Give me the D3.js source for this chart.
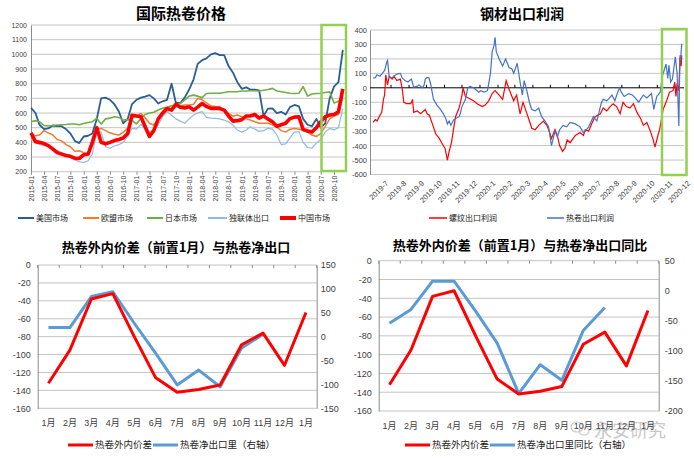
<!doctype html>
<html>
<head>
<meta charset="utf-8">
<title>热卷价格与出口</title>
<script src="https://cdn.jsdelivr.net/npm/d3@7"></script>
<style>
  body { margin: 0; background: #fff; }
  svg text { font-family: "Liberation Sans", "Noto Sans CJK SC", sans-serif; fill: #404040; }
  svg .title { font-family: "Noto Sans CJK SC", sans-serif; font-weight: bold; fill: #000; }
  svg .legend text { fill: #222; font-family: "Noto Sans CJK SC", sans-serif; }
</style>
</head>
<body>
<svg id="chart" width="694" height="462"></svg>
<script>
// ---------- data ----------
// 国际热卷价格, monthly, 2015-01 .. 2020-12
const usPrice    = [635,600,520,490,495,515,510,510,490,460,410,395, 440,445,460,560,700,705,690,660,610,530,560,660,
                    690,705,712,722,700,665,680,690,800,670,668,705, 760,830,935,960,972,1000,1008,995,995,920,875,810,
                    765,775,760,760,755,580,630,632,600,608,590,640, 655,645,560,520,510,560,500,530,700,780,810,1030];
const euPrice    = [455,445,450,480,465,450,420,410,385,370,340,343, 330,315,380,490,495,480,465,455,450,470,495,570,
                    580,598,570,530,518,552,590,610,632,640,650,654, 655,660,700,690,670,648,645,643,620,598,578,586,
                    575,560,552,540,530,530,530,520,505,480,470,490, 495,490,484,470,450,440,460,507,560,580,590,720];
const jpPrice    = [540,548,540,515,512,515,518,520,522,525,525,520, 528,535,540,565,525,560,565,575,570,552,555,550,
                    525,565,590,600,605,620,632,640,650,655,665,688, 715,722,715,705,733,735,735,735,740,745,745,745,
                    750,750,752,752,750,755,760,768,750,745,740,735, 733,735,780,715,730,733,735,740,745,668,680,688];
const cisPrice   = [420,400,385,380,370,355,345,330,315,295,280,268, 264,275,320,470,470,370,360,375,385,400,440,495,
                    490,525,490,473,484,520,575,609,585,560,545,530, 560,586,600,609,570,565,564,560,552,540,518,484,
                    470,484,507,490,475,480,496,490,450,385,390,430, 470,473,400,365,360,395,420,470,495,485,500,632];
const cnPrice    = [465,405,400,392,378,355,330,320,310,305,292,290, 315,320,400,500,400,390,400,412,420,430,460,585,
                    580,575,510,440,480,560,600,632,620,660,640,635, 643,620,640,665,645,632,632,630,620,580,545,548,
                    555,580,580,590,565,580,560,540,510,520,530,562, 572,575,488,478,470,500,540,575,586,590,609,765];
const priceSeries = ["美国市场", "欧盟市场", "日本市场", "独联体出口", "中国市场"];

// 钢材出口利润
const rebarProfit = [
  ["2019-07-01",-240],["2019-07-05",-220],["2019-07-08",-230],["2019-07-13",-190],["2019-07-16",-170],["2019-07-19",-80],["2019-07-21",-50],["2019-07-23",90],["2019-07-26",20],["2019-07-29",80],
  ["2019-08-03",60],["2019-08-06",80],["2019-08-11",50],["2019-08-17",60],["2019-08-20",0],["2019-08-23",-100],["2019-08-28",-110],
  ["2019-09-04",-110],["2019-09-07",-80],["2019-09-09",-170],["2019-09-15",-160],["2019-09-21",-180],["2019-09-29",-150],
  ["2019-10-02",-180],["2019-10-06",-190],["2019-10-12",-260],["2019-10-17",-320],["2019-10-23",-350],["2019-10-27",-380],
  ["2019-11-02",-420],["2019-11-06",-500],["2019-11-09",-440],["2019-11-13",-380],["2019-11-16",-300],["2019-11-20",-200],["2019-11-26",-140],["2019-11-28",-110],
  ["2019-12-01",-50],["2019-12-03",0],["2019-12-07",-60],["2019-12-12",-70],["2019-12-21",-90],["2019-12-27",-110],
  ["2020-01-05",-130],["2020-01-10",-120],["2020-01-16",-90],["2020-01-22",-40],["2020-01-27",-20],
  ["2020-02-03",-50],["2020-02-09",-80],["2020-02-15",50],["2020-02-20",-10],["2020-02-25",-60],["2020-02-28",-90],
  ["2020-03-04",-50],["2020-03-10",-180],["2020-03-15",-100],["2020-03-21",-170],["2020-03-26",-230],["2020-03-30",-280],
  ["2020-04-05",-290],["2020-04-11",-260],["2020-04-19",-230],["2020-04-25",-260],["2020-04-29",-300],
  ["2020-05-03",-350],["2020-05-09",-290],["2020-05-13",-330],["2020-05-17",-400],["2020-05-22",-440],["2020-05-26",-420],["2020-05-30",-360],
  ["2020-06-04",-380],["2020-06-13",-330],["2020-06-21",-310],["2020-06-27",-330],["2020-06-30",-290],
  ["2020-07-06",-300],["2020-07-11",-250],["2020-07-17",-200],["2020-07-26",-180],["2020-07-31",-140],
  ["2020-08-06",-160],["2020-08-12",-130],["2020-08-17",-110],["2020-08-23",-130],["2020-08-29",-180],
  ["2020-09-03",-100],["2020-09-09",-130],["2020-09-15",-140],["2020-09-21",-110],["2020-09-27",-170],
  ["2020-10-03",-210],["2020-10-08",-260],["2020-10-14",-240],["2020-10-20",-300],["2020-10-25",-360],["2020-10-28",-410],
  ["2020-11-02",-330],["2020-11-05",-290],["2020-11-11",-150],["2020-11-17",-90],["2020-11-22",-30],["2020-11-28",-20],
  ["2020-12-01",40],["2020-12-03",-60],["2020-12-05",30],["2020-12-08",-20],["2020-12-10",210],["2020-12-12",150],["2020-12-13",225]
];
const hrcProfit = [
  ["2019-07-01",68],["2019-07-05",70],["2019-07-08",90],["2019-07-13",80],["2019-07-16",95],["2019-07-19",110],["2019-07-21",120],["2019-07-25",183],["2019-07-26",190],["2019-07-29",70],
  ["2019-08-03",70],["2019-08-11",95],["2019-08-17",100],["2019-08-20",70],["2019-08-25",50],["2019-08-30",40],
  ["2019-09-05",60],["2019-09-09",5],["2019-09-15",10],["2019-09-18",20],["2019-09-24",0],["2019-09-27",20],["2019-09-29",60],
  ["2019-10-01",70],["2019-10-05",70],["2019-10-08",30],["2019-10-13",-80],["2019-10-19",-120],["2019-10-25",-150],["2019-10-30",-180],
  ["2019-11-03",-210],["2019-11-06",-250],["2019-11-09",-230],["2019-11-12",-260],["2019-11-17",-220],["2019-11-26",-200],["2019-11-28",-180],
  ["2019-12-01",-130],["2019-12-07",-80],["2019-12-11",0],["2019-12-15",10],["2019-12-21",0],["2019-12-27",-20],["2019-12-30",-30],
  ["2020-01-02",-20],["2020-01-08",-30],["2020-01-14",-20],["2020-01-19",100],["2020-01-22",250],["2020-01-25",290],["2020-01-27",350],["2020-01-29",250],
  ["2020-02-03",200],["2020-02-09",150],["2020-02-14",200],["2020-02-20",140],["2020-02-25",130],["2020-02-28",100],
  ["2020-03-05",170],["2020-03-10",40],["2020-03-14",-50],["2020-03-17",50],["2020-03-21",-10],["2020-03-26",-100],["2020-03-30",-150],
  ["2020-04-05",-160],["2020-04-11",-140],["2020-04-16",-200],["2020-04-22",-230],["2020-04-28",-270],
  ["2020-05-03",-400],["2020-05-09",-300],["2020-05-13",-340],["2020-05-17",-290],["2020-05-23",-260],["2020-05-29",-270],
  ["2020-06-04",-240],["2020-06-13",-250],["2020-06-21",-270],["2020-06-27",-310],["2020-06-30",-300],
  ["2020-07-06",-270],["2020-07-14",-200],["2020-07-20",-230],["2020-07-28",-100],["2020-07-31",-80],
  ["2020-08-06",-90],["2020-08-15",-50],["2020-08-20",-90],["2020-08-24",-40],["2020-08-28",0],["2020-08-31",-30],
  ["2020-09-05",-60],["2020-09-13",-40],["2020-09-19",-50],["2020-09-24",-70],["2020-09-30",-100],
  ["2020-10-03",-80],["2020-10-08",-50],["2020-10-14",-70],["2020-10-22",-40],["2020-10-26",-150],["2020-10-31",-60],
  ["2020-11-02",-50],["2020-11-06",-30],["2020-11-10",85],["2020-11-16",165],["2020-11-19",65],["2020-11-21",155],["2020-11-24",40],["2020-11-27",60],
  ["2020-12-02",215],["2020-12-05",100],["2020-12-08",-265],["2020-12-10",225],["2020-12-11",190],["2020-12-13",305]
];

// 外内价差 vs 净出口
const monthLabels  = ["1月","2月","3月","4月","5月","6月","7月","8月","9月","10月","11月","12月","1月"];
const priceGap     = [-132,-95,-38,-32,-80,-126,-142,-139,-134,-89,-76,-112,-53];
const netExport    = [19,19,84,94,28,-35,-101,-70,-105,-24,5];
const netExportYoy = [-54,-31,16,16,-34,-87,-171,-123,-149,-66,-28];

// ---------- drawing ----------
const svg = d3.select("#chart");
const green = "#92D050", grid = "#c4c4c4", axisCol = "#8c8c8c";
const parse = d3.timeParse("%Y-%m-%d");
const plain = d => String(d);   // keep hyphen minus, no thousands comma

function title(txt, x, y, size) {
  svg.append("text").attr("class", "title").attr("x", x).attr("y", y)
    .attr("text-anchor", "middle").style("font-size", size + "px").text(txt);
}

function legendItem(g, x, y, len, color, w, label, size) {
  g.append("line").attr("x1", x).attr("x2", x + len).attr("y1", y).attr("y2", y)
    .attr("stroke", color).attr("stroke-width", w);
  g.append("text").attr("x", x + len + 2).attr("y", y).attr("dy", "0.35em")
    .style("font-size", size + "px").text(label);
}

// ===== 国际热卷价格 =====
{
  const L = 31, R = 345;
  const months = d3.timeMonth.range(new Date(2015, 0, 1), new Date(2020, 11, 2));
  const x = d3.scaleTime().domain([new Date(2015, 0, 1), new Date(2020, 9, 1)]).range([31, 334]);
  const y = d3.scaleLinear().domain([200, 1200]).range([171.7, 25]);
  const g = svg.append("g");

  g.selectAll(".grid").data(d3.range(200, 1201, 100)).join("line")
    .attr("x1", L).attr("x2", R).attr("y1", d => y(d)).attr("y2", d => y(d))
    .attr("stroke", grid).attr("stroke-width", 1);

  const ya = g.append("g").attr("transform", `translate(${L},0)`)
    .call(d3.axisLeft(y).tickValues(d3.range(200, 1201, 100)).tickFormat(plain).tickSize(0).tickPadding(4));
  ya.select(".domain").attr("stroke", axisCol);
  ya.selectAll("text").style("font-size", "7px");

  const xa = g.append("g").attr("transform", `translate(0,${y(200)})`)
    .call(d3.axisBottom(x).ticks(d3.timeMonth.every(3)).tickFormat(d3.timeFormat("%Y-%m")).tickSize(3));
  xa.select(".domain").remove();
  xa.selectAll("line").attr("stroke", axisCol);
  xa.selectAll("text").style("font-size", "7px")
    .attr("transform", "rotate(-90)").attr("text-anchor", "end")
    .attr("x", -4).attr("y", 0).attr("dy", "0.35em");

  const line = d3.line().x((d, i) => x(months[i])).y(d => y(d));
  const sets = [
    [usPrice, "#2A5F94", 1.8], [euPrice, "#ED7D31", 1.5], [jpPrice, "#70AD47", 1.6],
    [cisPrice, "#8DBBE6", 1.2], [cnPrice, "#FF0000", 3.6]
  ];
  sets.forEach(s => {
    g.append("path").attr("d", line(s[0])).attr("fill", "none")
      .attr("stroke", s[1]).attr("stroke-width", s[2]).attr("stroke-linejoin", "round");
  });

  g.append("rect").attr("x", 321.5).attr("y", 25).attr("width", 24.5).attr("height", 146)
    .attr("fill", "none").attr("stroke", green).attr("stroke-width", 2.5);

  const lg = g.append("g").attr("class", "legend");
  const lx = [18, 83, 147, 208, 280];
  sets.forEach((s, i) => legendItem(lg, lx[i], 218, i == 3 ? 19 : 16, s[1], i == 4 ? 4 : 2, priceSeries[i], 8));

  title("国际热卷价格", 181, 19, 15);
}

// ===== 钢材出口利润 =====
{
  const L = 370, R = 684;
  const x = d3.scaleTime().domain([new Date(2019, 6, 1), new Date(2020, 11, 1)]).range([373, 674.75]);
  const y = d3.scaleLinear().domain([-600, 400]).range([174.5, 30]);
  const g = svg.append("g");

  g.selectAll(".grid").data(d3.range(-600, 401, 100).filter(d => d != 0)).join("line")
    .attr("x1", L).attr("x2", R).attr("y1", d => y(d)).attr("y2", d => y(d))
    .attr("stroke", grid).attr("stroke-width", 1);

  const ya = g.append("g").attr("transform", `translate(${L},0)`)
    .call(d3.axisLeft(y).tickValues(d3.range(-600, 401, 100)).tickFormat(plain).tickSize(0).tickPadding(3));
  ya.select(".domain").attr("stroke", axisCol);
  ya.selectAll("text").style("font-size", "7.5px");

  // zero line with month ticks
  g.append("line").attr("x1", L).attr("x2", R).attr("y1", y(0)).attr("y2", y(0))
    .attr("stroke", "#000").attr("stroke-width", 1);
  const months = d3.timeMonth.range(new Date(2019, 6, 1), new Date(2021, 0, 1));
  g.selectAll(".tk").data(months.slice(1)).join("line")
    .attr("x1", d => x(d)).attr("x2", d => x(d)).attr("y1", y(0)).attr("y2", y(0) - 3)
    .attr("stroke", "#000");

  const fmt = d3.timeFormat("%Y-%-m");
  g.selectAll(".xl").data(months).join("text")
    .attr("transform", d => {
      const c = (x(d) + x(d3.timeMonth.offset(d, 1))) / 2;
      return `translate(${c + 5},${182}) rotate(-45)`;
    })
    .attr("text-anchor", "end").attr("dy", "0.35em")
    .style("font-size", "7.5px").text(d => fmt(d));

  const line = d3.line().x(d => x(parse(d[0]))).y(d => y(d[1]));
  g.append("path").attr("d", line(rebarProfit)).attr("fill", "none")
    .attr("stroke", "#FF0000").attr("stroke-width", 1.2);
  g.append("path").attr("d", line(hrcProfit)).attr("fill", "none")
    .attr("stroke", "#4472C4").attr("stroke-width", 1.2);

  g.append("rect").attr("x", 662).attr("y", 29).attr("width", 24.5).attr("height", 146)
    .attr("fill", "none").attr("stroke", green).attr("stroke-width", 2.5);

  const lg = g.append("g").attr("class", "legend");
  legendItem(lg, 429, 218, 18, "#FF0000", 1.5, "螺纹出口利润", 8);
  legendItem(lg, 547, 218, 17, "#4472C4", 1.5, "热卷出口利润", 8);

  title("钢材出口利润", 522, 19, 14);
}

// ===== 价差 vs 净出口 (dual axis) =====
function dualChart(o) {
  const g = svg.append("g");
  const x = d3.scaleBand().domain(d3.range(monthLabels.length)).range([o.l, o.r]);
  const yl = d3.scaleLinear().domain([-160, 0]).range([o.b, o.t]);
  const yr = d3.scaleLinear().domain(o.rightDomain).range([o.b, o.t]);

  g.selectAll(".grid").data(d3.range(-160, 1, 20)).join("line")
    .attr("x1", o.l).attr("x2", o.r).attr("y1", d => yl(d)).attr("y2", d => yl(d))
    .attr("stroke", grid).attr("stroke-width", 1);
  // category ticks on the top (0) line
  g.selectAll(".tk").data(d3.range(monthLabels.length + 1)).join("line")
    .attr("x1", i => o.l + i * x.step()).attr("x2", i => o.l + i * x.step())
    .attr("y1", o.t).attr("y2", o.t + 3).attr("stroke", axisCol);

  const la = g.append("g").attr("transform", `translate(${o.l},0)`)
    .call(d3.axisLeft(yl).tickValues(d3.range(-160, 1, 20)).tickFormat(plain).tickSize(0).tickPadding(o.padL));
  la.select(".domain").attr("stroke", axisCol);
  la.selectAll("text").style("font-size", "9px");

  const ra = g.append("g").attr("transform", `translate(${o.r},0)`)
    .call(d3.axisRight(yr).tickValues(o.rightTicks).tickFormat(plain).tickSize(0).tickPadding(o.padR));
  ra.select(".domain").attr("stroke", axisCol);
  ra.selectAll("text").style("font-size", "9px");

  g.selectAll(".xl").data(monthLabels).join("text")
    .attr("x", (d, i) => x(i) + x.bandwidth() / 2).attr("y", o.labelY)
    .attr("text-anchor", "middle").style("font-size", "9px").text(d => d);

  const cx = (d, i) => x(i) + x.bandwidth() / 2;
  g.append("path").attr("d", d3.line().x(cx).y(d => yr(d))(o.right))
    .attr("fill", "none").attr("stroke", "#5B9BD5").attr("stroke-width", 3).attr("stroke-linejoin", "round");
  g.append("path").attr("d", d3.line().x(cx).y(d => yl(d))(priceGap))
    .attr("fill", "none").attr("stroke", "#FF0000").attr("stroke-width", 3).attr("stroke-linejoin", "round");

  const lg = g.append("g").attr("class", "legend");
  legendItem(lg, o.lg[0], 445, 25, "#FF0000", 3, "热卷外内价差", 9.5);
  legendItem(lg, o.lg[1], 445, 25, "#5B9BD5", 3, o.rightName, 9.5);

  title(o.title, o.titleX, o.titleY, 13);
}

dualChart({
  l: 37.7, r: 316.7, t: 265, b: 408.3, padL: 7, padR: 4, labelY: 426,
  rightDomain: [-150, 150], rightTicks: d3.range(-150, 151, 50), right: netExport,
  rightName: "热卷净出口里（右轴）", lg: [68, 153],
  title: "热卷外内价差（前置1月）与热卷净出口", titleX: 176, titleY: 252
});
dualChart({
  l: 378.7, r: 658.7, t: 260.7, b: 411, padL: 7, padR: 6, labelY: 429,
  rightDomain: [-200, 50], rightTicks: d3.range(-200, 51, 50), right: netExportYoy,
  rightName: "热卷净出口里同比（右轴）", lg: [405, 490],
  title: "热卷外内价差（前置1月）与热卷净出口同比", titleX: 520, titleY: 250
});

// watermark, drawn over the axis labels as in the source image
const wm = svg.append("g").attr("opacity", 0.4);
wm.append("ellipse").attr("cx", 577).attr("cy", 427).attr("rx", 6).attr("ry", 5)
  .attr("fill", "none").attr("stroke", "#777").attr("stroke-width", 1.2);
wm.append("ellipse").attr("cx", 584).attr("cy", 431).attr("rx", 5).attr("ry", 4)
  .attr("fill", "none").attr("stroke", "#777").attr("stroke-width", 1.2);
wm.append("text").attr("x", 594).attr("y", 437).style("font-size", "18px")
  .style("font-family", "Noto Sans CJK SC").style("fill", "#777").text("永安研究");
</script>
</body>
</html>
